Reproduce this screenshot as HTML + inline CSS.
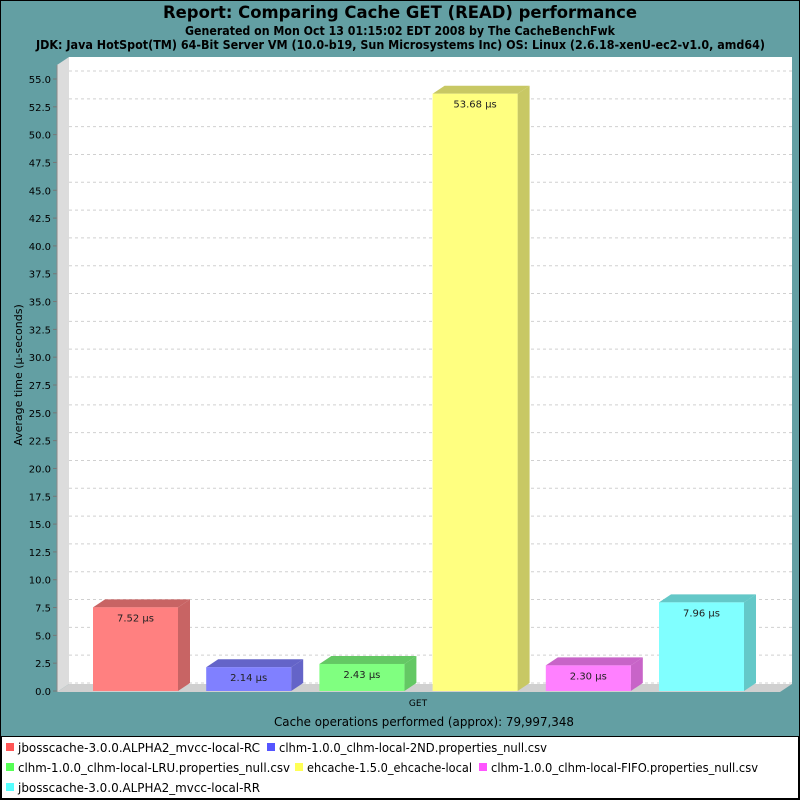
<!DOCTYPE html>
<html><head><meta charset="utf-8"><style>
body{margin:0;background:#fff}
svg{display:block;font-family:"DejaVu Sans","Liberation Sans",sans-serif}
</style></head><body>
<svg id="c" width="800" height="800" viewBox="0 0 800 800" xmlns="http://www.w3.org/2000/svg">
<rect x="0" y="0" width="800" height="800" fill="#000"/>
<rect x="1" y="1" width="798" height="735" fill="#639fa3"/>
<rect x="2" y="737" width="796" height="61" fill="#fff"/>
<text x="163" y="18" textLength="474" lengthAdjust="spacingAndGlyphs" font-size="17" font-weight="bold">Report: Comparing Cache GET (READ) performance</text>
<text x="185" y="35" textLength="430" lengthAdjust="spacingAndGlyphs" font-size="12" font-weight="bold">Generated on Mon Oct 13 01:15:02 EDT 2008 by The CacheBenchFwk</text>
<text x="36" y="49" textLength="729" lengthAdjust="spacingAndGlyphs" font-size="12" font-weight="bold">JDK: Java HotSpot(TM) 64-Bit Server VM (10.0-b19, Sun Microsystems Inc) OS: Linux (2.6.18-xenU-ec2-v1.0, amd64)</text>
<polygon points="57,65 69,57 69,684 57,692" fill="#dcdcdc"/>
<rect x="69" y="57" width="723" height="627" fill="#fff"/>
<polygon points="57,692 69,684 792,684 780,692" fill="#d0d0d0"/>
<g id="grid"></g>
<g id="yaxis"></g>
<g id="bars"></g>
<text x="418" y="706" text-anchor="middle" font-size="9">GET</text>
<text x="274" y="726" textLength="300" lengthAdjust="spacingAndGlyphs" font-size="12">Cache operations performed (approx): 79,997,348</text>
<text transform="translate(22,375) rotate(-90)" text-anchor="middle" font-size="11">Average time (µ-seconds)</text>
<g id="legend"></g>
</svg>
<script>
const series = ["jbosscache-3.0.0.ALPHA2_mvcc-local-RC","clhm-1.0.0_clhm-local-2ND.properties_null.csv","clhm-1.0.0_clhm-local-LRU.properties_null.csv","ehcache-1.5.0_ehcache-local","clhm-1.0.0_clhm-local-FIFO.properties_null.csv","jbosscache-3.0.0.ALPHA2_mvcc-local-RR"];
const values = [7.52, 2.14, 2.43, 53.68, 2.30, 7.96];
const valueLabels = ["7.52 µs","2.14 µs","2.43 µs","53.68 µs","2.30 µs","7.96 µs"];
const yTicks = [0,2.5,5,7.5,10,12.5,15,17.5,20,22.5,25,27.5,30,32.5,35,37.5,40,42.5,45,47.5,50,52.5,55];
const baseColors = ["#ff5555","#5555ff","#55ff55","#ffff55","#ff55ff","#55ffff"];
const frontColors = ["#ff8080","#8080ff","#80ff80","#ffff80","#ff80ff","#80ffff"];
const sideColors = ["#c86464","#6464c8","#64c864","#c8c864","#c864c8","#64c8c8"];

const NS="http://www.w3.org/2000/svg";
const y0=691, pxPer=(691-79)/55, DX=12, DY=8;
const y=v=>y0-v*pxPer;
function mk(tag,attrs,parent){const e=document.createElementNS(NS,tag);for(const k in attrs)e.setAttribute(k,attrs[k]);parent.appendChild(e);return e;}
const grid=document.getElementById('grid'), ya=document.getElementById('yaxis'), bars=document.getElementById('bars'), lg=document.getElementById('legend');
yTicks.forEach(t=>{
  const g=mk('line',{x1:69,x2:792,y1:y(t)-DY,y2:y(t)-DY,stroke:'#d0d0d0','stroke-dasharray':'3,3','stroke-width':1},grid);
  
  
  const tk=mk('line',{x1:53,x2:57,y1:y(t),y2:y(t),stroke:'#777'},ya);
  
  
  const tx=mk('text',{x:51,y:y(t)+4,'text-anchor':'end','font-size':10},ya);
  tx.textContent=t.toFixed(1);
  
  
});
const ax=mk('line',{x1:57,x2:57,y1:65,y2:692,stroke:'#888'},ya);


const barW=85, start=93, step=113.2;
values.forEach((v,i)=>{
  const x0=start+i*step, x1=x0+barW, top=y(v);
  const g=mk('g',{},bars);
  
  
  mk('polygon',{points:`${x1},${y0} ${x1+DX},${y0-DY} ${x1+DX},${top-DY} ${x1},${top}`,fill:sideColors[i]},g);
  mk('polygon',{points:`${x0},${top} ${x0+DX},${top-DY} ${x1+DX},${top-DY} ${x1},${top}`,fill:sideColors[i]},g);
  mk('rect',{x:x0,y:top,width:barW,height:y0-top,fill:frontColors[i]},g);
  const t=mk('text',{x:x0+barW/2,y:top+14,'text-anchor':'middle','font-size':10,fill:'#222'},g);
  t.textContent=valueLabels[i];
  
  
});
const lpos=[[6,752,242],[267,752,268],[6,772,272],[295,772,165],[479,772,267],[6,792,242]];
series.forEach((s,i)=>{
  const g=mk('g',{},lg);
  
  
  mk('rect',{x:lpos[i][0],y:lpos[i][1]-9,width:8,height:8,fill:baseColors[i]},g);
  const t=mk('text',{x:lpos[i][0]+12,y:lpos[i][1],'font-size':12,textLength:lpos[i][2],lengthAdjust:'spacingAndGlyphs'},g);
  t.textContent=s;
});
</script>
</body></html>
